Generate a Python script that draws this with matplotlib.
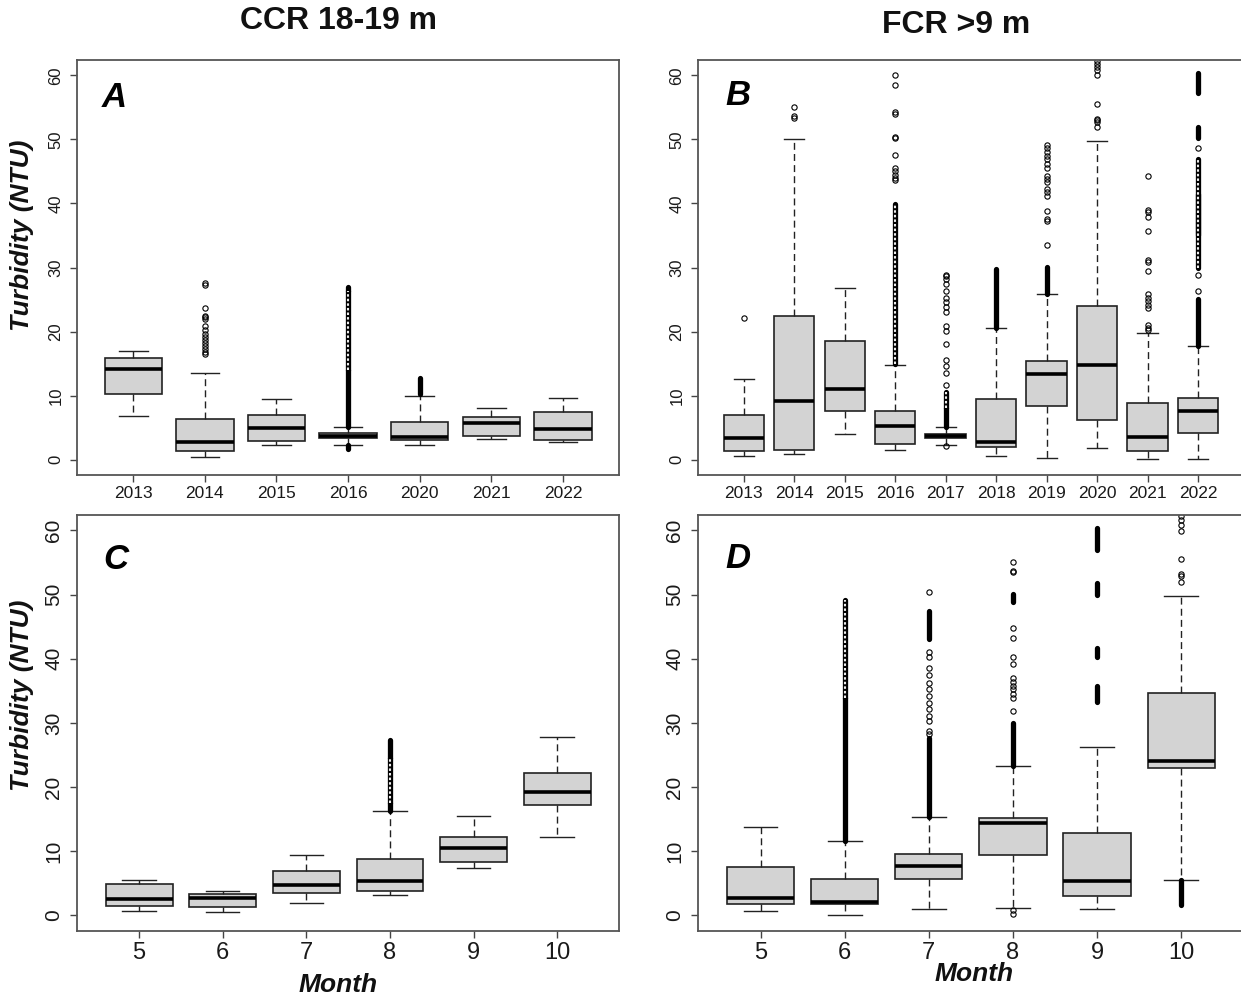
import numpy as np
import matplotlib
matplotlib.use("Agg")
import matplotlib.pyplot as plt

plt.rcParams['font.family'] = ['Liberation Sans', 'DejaVu Sans']

# ---- Panel A: CCR 18-19 m by year ----
years_ccr = ['2013', '2014', '2015', '2016', '2020', '2021', '2022']
ccr_year_med = [14.2, 2.75, 4.95, 3.65, 3.5, 5.7, 4.85]
ccr_year_q1 = [10.3, 1.35, 2.85, 3.4, 3.0, 3.7, 3.0]
ccr_year_q3 = [15.9, 6.4, 7.0, 4.15, 5.9, 6.65, 7.45]
ccr_year_lo = [6.8, 0.4, 2.35, 2.35, 2.35, 3.2, 2.75]
ccr_year_hi = [16.9, 13.6, 9.4, 5.1, 9.9, 8.0, 9.7]
ccr_year_out = [[], [27.6, 27.3, 23.7, 22.5, 22.2, 21.9, 20.8, 20.3, 19.6, 19.1,
                     18.7, 18.2, 17.7, 17.2, 16.8, 16.5],
                [], [], [], [], []]
# runs of overlapping outliers: (group index, low, high, solid?)
ccr_year_runs = [(3, 5.1, 14.0, True), (3, 14.0, 26.3, False), (3, 26.3, 27.0, True),
                 (3, 1.7, 2.3, True), (4, 10.3, 12.7, True)]

# ---- Panel B: FCR >9 m by year ----
years_fcr = ['2013', '2014', '2015', '2016', '2017', '2018', '2019', '2020', '2021', '2022']
fcr_year_med = [3.45, 9.2, 11.1, 5.25, 3.65, 2.75, 13.3, 14.7, 3.5, 7.65]
fcr_year_q1 = [1.35, 1.55, 7.55, 2.5, 3.3, 2.0, 8.3, 6.25, 1.35, 4.2]
fcr_year_q3 = [7.0, 22.4, 18.6, 7.55, 4.05, 9.4, 15.4, 24.0, 8.9, 9.7]
fcr_year_lo = [0.56, 0.95, 4.05, 1.55, 2.35, 0.56, 0.3, 1.8, 0.05, 0.05]
fcr_year_hi = [12.65, 50.0, 26.8, 14.8, 5.1, 20.6, 25.8, 49.7, 19.8, 17.7]
fcr_year_out = [
    [22.1],
    [55.0, 53.6, 53.3],
    [],
    [60.0, 58.5, 54.3, 54.0, 50.4, 50.2, 47.6, 45.6, 45.0, 44.5, 44.0, 43.7],
    [28.9, 28.6, 28.2, 27.5, 26.4, 25.2, 24.6, 23.9, 23.1, 20.9, 20.1, 18.0,
     15.6, 14.6, 13.5, 11.6, 2.2],
    [],
    [33.5, 37.3, 37.6, 38.9, 41.2, 41.8, 42.3, 43.3, 43.8, 44.3, 45.6, 46.2,
     46.9, 47.4, 48.0, 48.6, 49.2],
    [52.0, 52.7, 53.0, 53.2, 55.6, 60.0, 60.8, 61.3, 61.8, 62.2],
    [44.3, 39.0, 38.7, 37.9, 35.7, 31.1, 30.8, 29.4, 25.8, 25.3, 24.7, 24.2,
     23.7, 21.0, 20.6, 20.3],
    [26.4, 28.8, 48.6],
]
fcr_year_runs = [(3, 15.0, 39.9, False), (4, 5.1, 8.0, True), (4, 8.0, 10.5, False),
                 (5, 20.6, 29.7, True), (6, 25.8, 30.1, True),
                 (9, 17.7, 25.1, True), (9, 30.0, 46.9, False), (9, 35.0, 41.5, True),
                 (9, 50.2, 51.9, True), (9, 57.2, 60.3, True)]

# ---- Panel C: CCR 18-19 m by month ----
months = ['5', '6', '7', '8', '9', '10']
ccr_mon_med = [2.55, 2.7, 4.8, 5.3, 10.5, 19.25]
ccr_mon_q1 = [1.5, 1.3, 3.4, 3.75, 8.3, 17.2]
ccr_mon_q3 = [4.95, 3.3, 6.87, 8.85, 12.2, 22.2]
ccr_mon_lo = [0.73, 0.53, 1.93, 3.23, 7.35, 12.2]
ccr_mon_hi = [5.46, 3.85, 9.47, 16.2, 15.45, 27.8]
ccr_mon_out = [[], [], [], [], [], []]
ccr_mon_runs = [(3, 16.2, 17.5, True), (3, 17.5, 24.5, False), (3, 24.5, 27.4, True)]

# ---- Panel D: FCR >9 m by month ----
fcr_mon_med = [2.7, 2.08, 7.65, 14.4, 5.3, 24.0]
fcr_mon_q1 = [1.83, 1.83, 5.7, 9.47, 3.07, 23.0]
fcr_mon_q3 = [7.55, 5.7, 9.6, 15.1, 12.85, 34.6]
fcr_mon_lo = [0.73, 0.0, 1.0, 1.15, 1.0, 5.57]
fcr_mon_hi = [13.8, 11.55, 15.3, 23.35, 26.3, 49.8]
fcr_mon_out = [
    [],
    [],
    [28.2, 28.7, 30.3, 31.0, 32.1, 33.1, 34.2, 35.2, 36.2, 37.5, 38.6, 40.2, 41.0, 50.4],
    [31.8, 33.9, 34.5, 35.2, 35.7, 36.3, 37.0, 39.1, 40.3, 43.2, 44.8, 53.5, 53.7,
     55.1, 0.8, 0.25],
    [],
    [52.0, 52.9, 53.2, 55.6, 59.9, 60.9, 61.6, 62.2],
]
fcr_mon_runs = [(1, 11.55, 33.9, True), (1, 33.9, 49.2, False),
                (2, 15.3, 27.7, True), (2, 43.1, 47.4, True),
                (3, 23.35, 30.0, True), (3, 48.8, 50.1, True),
                (4, 33.3, 35.8, True), (4, 40.2, 41.7, True), (4, 50.0, 51.8, True),
                (4, 57.0, 60.4, True), (5, 1.67, 5.57, True)]

W, H = 1241, 1000
fig = plt.figure(figsize=(W / 100, H / 100), dpi=100)


def px_axes(left, right, top, bottom):
    return fig.add_axes([left / W, 1 - bottom / H, (right - left) / W, (bottom - top) / H])


def draw_panel(ax, labels, med, q1, q3, lo, hi, out, runs, tick_fs, ytick_fs):
    stats = []
    for i in range(len(labels)):
        stats.append(dict(med=med[i], q1=q1[i], q3=q3[i], whislo=lo[i],
                          whishi=hi[i], fliers=out[i]))
    pos = np.arange(1, len(labels) + 1)
    ax.bxp(stats, positions=pos, widths=0.8, capwidths=0.4, patch_artist=True,
           boxprops=dict(facecolor='#d3d3d3', edgecolor='#222222', linewidth=1.2),
           medianprops=dict(color='black', linewidth=2.6),
           whiskerprops=dict(color='#222222', linewidth=1.0, linestyle=(0, (5, 3))),
           capprops=dict(color='#222222', linewidth=1.0),
           flierprops=dict(marker='o', markerfacecolor='none', markeredgecolor='black',
                           markersize=3.8, markeredgewidth=0.8))
    # tightly packed outliers drawn as a continuous column
    for g, a, b, solid in runs:
        lc = ax.vlines(pos[g], a, b, color='black', linewidth=3.8, zorder=3)
        lc.set_capstyle('round')
        if not solid:
            ax.vlines(pos[g], a, b, color='#eeeeee', linewidth=1.5, zorder=4,
                      linestyles=(0, (1.2, 1.0)))
    n = len(labels)
    ax.set_xlim(0.5 - 0.04 * n, n + 0.5 + 0.04 * n)
    ax.set_ylim(-2.4, 62.4)
    ax.set_xticks(pos)
    ax.set_xticklabels(labels, fontsize=tick_fs, color='#1a1a1a')
    ax.set_yticks([0, 10, 20, 30, 40, 50, 60])
    ax.set_yticklabels(['0', '10', '20', '30', '40', '50', '60'], rotation=90,
                       va='center', fontsize=ytick_fs, color='#1a1a1a')
    ax.tick_params(direction='out', length=5, width=1.0, color='#444444')
    ax.tick_params(axis='x', pad=3)
    ax.tick_params(axis='y', pad=5)
    for s in ax.spines.values():
        s.set_color('#555555')
        s.set_linewidth(1.3)


axA = px_axes(77.3, 619, 60, 475)
draw_panel(axA, years_ccr, ccr_year_med, ccr_year_q1, ccr_year_q3, ccr_year_lo,
           ccr_year_hi, ccr_year_out, ccr_year_runs, 12.5, 12)
axB = px_axes(698.3, 1243.5, 60, 475)
draw_panel(axB, years_fcr, fcr_year_med, fcr_year_q1, fcr_year_q3, fcr_year_lo,
           fcr_year_hi, fcr_year_out, fcr_year_runs, 12.5, 12)
axC = px_axes(77.3, 619, 515, 930.7)
draw_panel(axC, months, ccr_mon_med, ccr_mon_q1, ccr_mon_q3, ccr_mon_lo,
           ccr_mon_hi, ccr_mon_out, ccr_mon_runs, 17, 15)
axD = px_axes(698.3, 1243.5, 515, 930.7)
draw_panel(axD, months, fcr_mon_med, fcr_mon_q1, fcr_mon_q3, fcr_mon_lo,
           fcr_mon_hi, fcr_mon_out, fcr_mon_runs, 17, 15)

fig.text(338 / W, 1 - 21 / H, 'CCR 18-19 m', ha='center', va='center',
         fontsize=23, fontweight='bold', color='#111111')
fig.text(956 / W, 1 - 25 / H, 'FCR >9 m', ha='center', va='center',
         fontsize=23, fontweight='bold', color='#111111')

for yc in (235, 695):
    fig.text(22 / W, 1 - yc / H, 'Turbidity (NTU)', rotation=90, ha='center',
             va='center', fontsize=19, fontweight='bold', fontstyle='italic',
             color='#111111')

fig.text(338 / W, 1 - 985 / H, 'Month', ha='center', va='center', fontsize=19,
         fontweight='bold', fontstyle='italic', color='#111111')
fig.text(974 / W, 1 - 974 / H, 'Month', ha='center', va='center', fontsize=19,
         fontweight='bold', fontstyle='italic', color='#111111')

for lab, x, y in (('A', 102, 107), ('B', 725, 105), ('C', 103, 569), ('D', 725, 568)):
    fig.text(x / W, 1 - y / H, lab, ha='left', va='baseline', fontsize=25,
             fontweight='bold', fontstyle='italic', color='black')

fig.savefig('out.png', dpi=100)
